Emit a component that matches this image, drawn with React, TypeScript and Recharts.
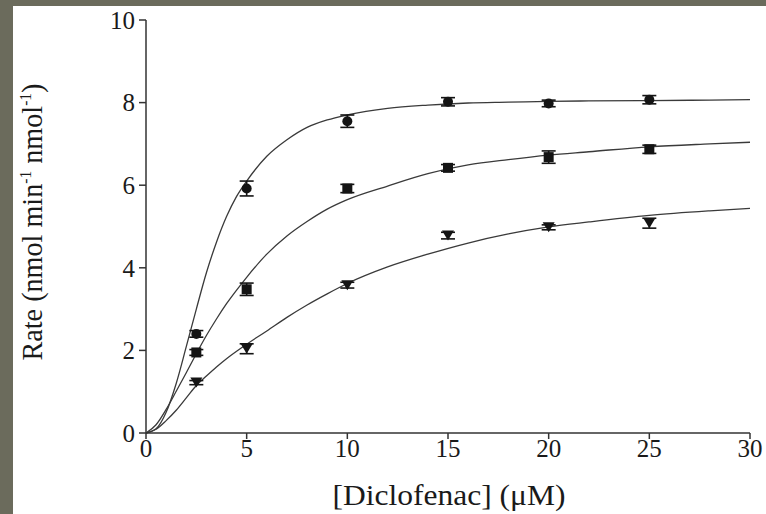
import { ComposedChart, ErrorBar, Label, Line, Scatter, XAxis, YAxis } from "recharts";

const xTicks = [0, 5, 10, 15, 20, 25, 30];
const yTicks = [0, 2, 4, 6, 8, 10];

// measured points
const doseX = [2.5, 5, 10, 15, 20, 25];
const circleRate = [2.4, 5.92, 7.55, 8.02, 7.98, 8.07];
const circleErr = [0.08, 0.18, 0.15, 0.1, 0.08, 0.1];
const squareRate = [1.95, 3.48, 5.92, 6.42, 6.68, 6.87];
const squareErr = [0.07, 0.15, 0.1, 0.08, 0.15, 0.1];
const triangleRate = [1.22, 2.04, 3.58, 4.78, 4.98, 5.08];
const triangleErr = [0.05, 0.12, 0.07, 0.08, 0.06, 0.12];

// fitted curves
const fitX = [0, 0.5, 1, 1.5, 2, 2.5, 3, 3.5, 4, 4.5, 5, 6, 7, 8, 9, 10, 12, 14, 16, 18, 20, 22, 25, 28, 30];
const circleFit = [0, 0.1, 0.5, 1.2, 2.09, 3.0, 3.88, 4.62, 5.24, 5.73, 6.1, 6.7, 7.1, 7.4, 7.58, 7.7, 7.86, 7.94, 7.99, 8.01, 8.03, 8.04, 8.05, 8.06, 8.07];
const squareFit = [0, 0.2, 0.57, 1.01, 1.46, 1.92, 2.36, 2.76, 3.13, 3.46, 3.77, 4.33, 4.77, 5.12, 5.42, 5.65, 5.98, 6.28, 6.49, 6.62, 6.73, 6.81, 6.93, 7.0, 7.04];
const triangleFit = [0, 0.09, 0.3, 0.55, 0.85, 1.15, 1.38, 1.6, 1.8, 1.98, 2.15, 2.47, 2.8, 3.1, 3.37, 3.62, 4.02, 4.33, 4.6, 4.82, 4.99, 5.11, 5.27, 5.38, 5.44];

const pts = (ys: number[], errs: number[]) => doseX.map((x, i) => ({ x, y: ys[i], err: errs[i] }));
const curve = (ys: number[]) => fitX.map((x, i) => ({ x, y: ys[i] }));

const ink = "#141414";
const font = "Liberation Serif, Times New Roman, Tinos, serif";

const Dot = (p: any) => <circle cx={p.cx} cy={p.cy} r={5} fill={ink} />;
const Sq = (p: any) => <rect x={p.cx - 5} y={p.cy - 5} width={10} height={10} fill={ink} />;
const Tri = (p: any) => (
  <polygon points={`${p.cx - 6},${p.cy - 5} ${p.cx + 6},${p.cy - 5} ${p.cx},${p.cy + 5}`} fill={ink} />
);

const YTitle = () => (
  <text
    x={42}
    y={222}
    transform="rotate(-90, 42, 222)"
    textAnchor="middle"
    style={{ fontFamily: font }}
    fontSize={29}
    fill="#1a1a1a"
    textLength={277}
    lengthAdjust="spacingAndGlyphs"
  >
    Rate (nmol min
    <tspan fontSize={16} dy={-11}>-1</tspan>
    <tspan dy={11}> nmol</tspan>
    <tspan fontSize={16} dy={-11}>-1</tspan>
    <tspan dy={11}>)</tspan>
  </text>
);

const XTitle = () => (
  <text
    x={449}
    y={505}
    textAnchor="middle"
    style={{ fontFamily: font }}
    fontSize={29}
    fill="#1a1a1a"
    textLength={233}
    lengthAdjust="spacingAndGlyphs"
  >
    [Diclofenac] (μM)
  </text>
);

export default function App() {
  const series = [
    { fit: circleFit, rate: circleRate, err: circleErr, shape: Dot },
    { fit: squareFit, rate: squareRate, err: squareErr, shape: Sq },
    { fit: triangleFit, rate: triangleRate, err: triangleErr, shape: Tri },
  ];
  return (
    <div style={{ position: "absolute", left: 0, top: 0, width: 766, height: 514, background: "#6b6b5c", fontFamily: font }}>
      <div style={{ position: "absolute", left: 13, top: 6, right: 0, bottom: 0, background: "#fff" }} />
      <div style={{ position: "absolute", left: 0, top: 0 }}>
        <ComposedChart width={766} height={514} margin={{ top: 20, right: 16, bottom: 0, left: 0 }}>
          <XAxis
            type="number"
            dataKey="x"
            domain={[0, 30]}
            ticks={xTicks}
            height={81}
            stroke="#333"
            strokeWidth={1.5}
            tickSize={6}
            tickMargin={0}
            tick={{ fill: "#1a1a1a", fontSize: 25, style: { fontFamily: font } }}
            allowDataOverflow
          >
            <Label content={<XTitle />} />
          </XAxis>
          <YAxis
            type="number"
            domain={[0, 10]}
            ticks={yTicks}
            width={146}
            stroke="#333"
            strokeWidth={1.5}
            tickSize={7}
            tickMargin={4}
            tick={{ fill: "#1a1a1a", fontSize: 25, style: { fontFamily: font } }}
          >
            <Label content={<YTitle />} />
          </YAxis>
          {series.map((s, i) => (
            <Line
              key={"l" + i}
              data={curve(s.fit)}
              dataKey="y"
              type="monotone"
              dot={false}
              stroke="#3a3a3a"
              strokeWidth={1.3}
              isAnimationActive={false}
            />
          ))}
          {series.map((s, i) => (
            <Scatter key={"s" + i} data={pts(s.rate, s.err)} dataKey="y" shape={s.shape} isAnimationActive={false}>
              <ErrorBar dataKey="err" direction="y" width={7} stroke={ink} strokeWidth={1.6} isAnimationActive={false} />
            </Scatter>
          ))}
        </ComposedChart>
      </div>
    </div>
  );
}
